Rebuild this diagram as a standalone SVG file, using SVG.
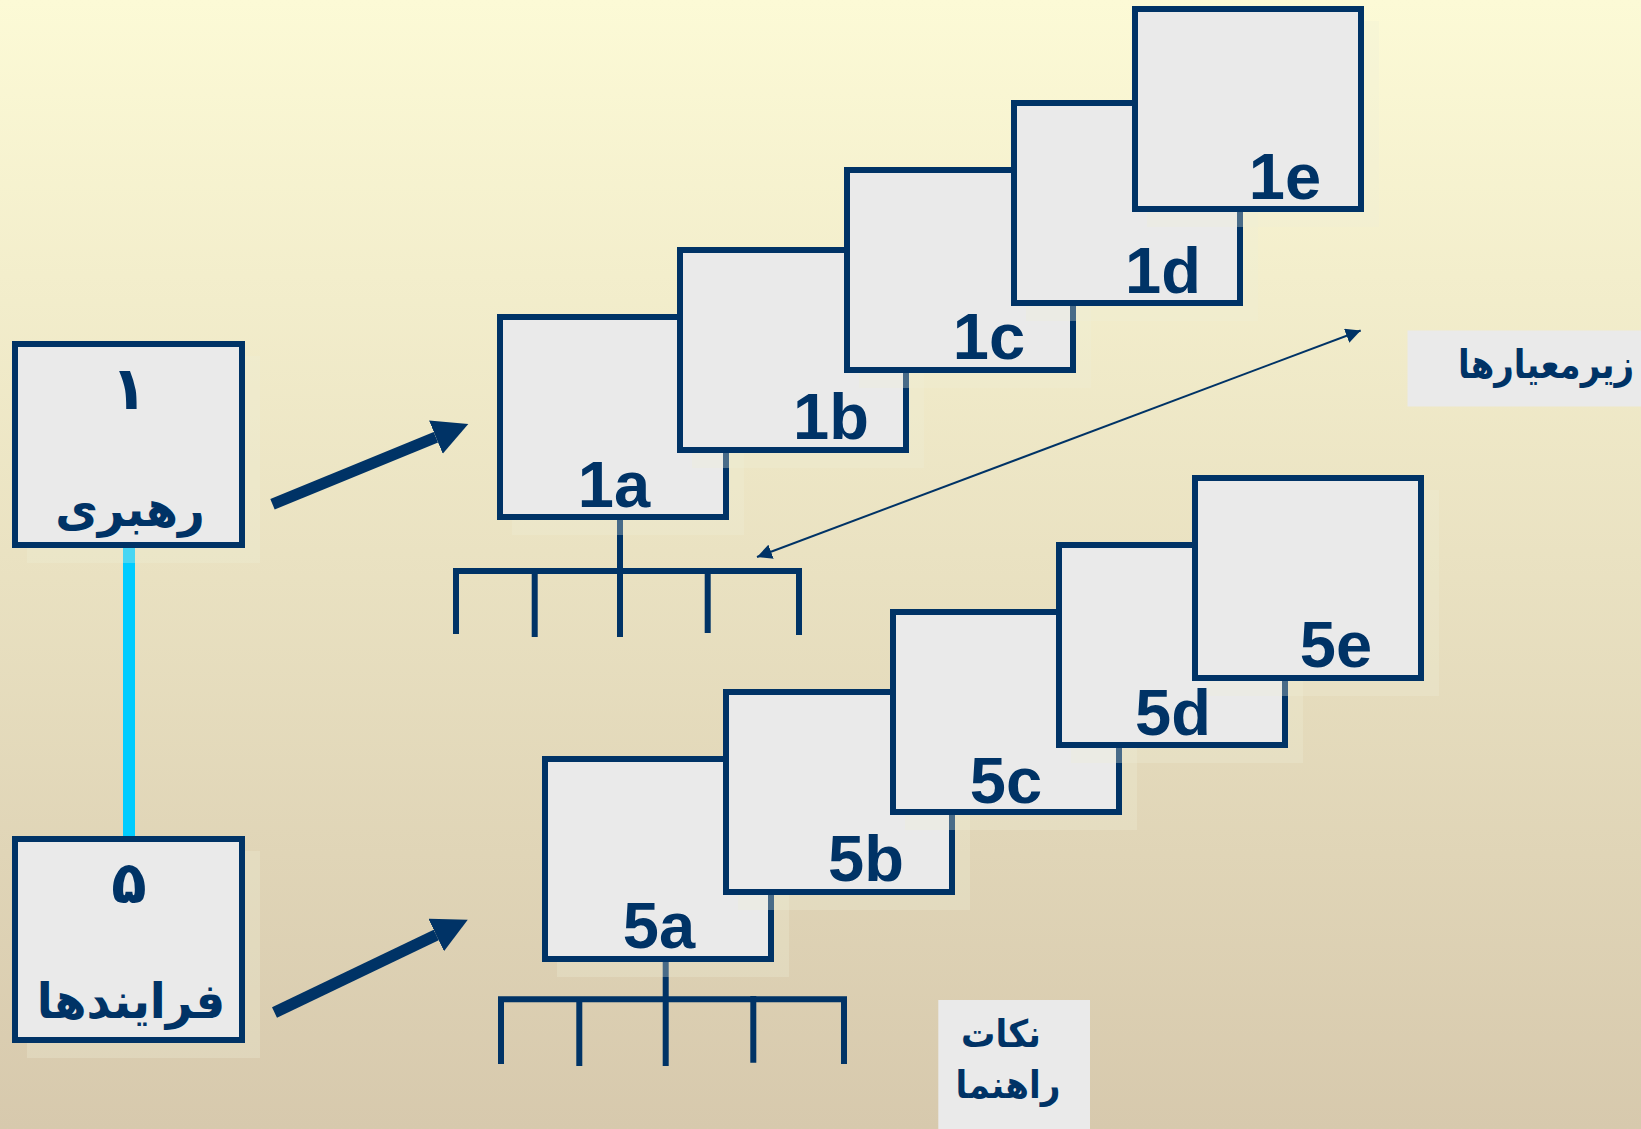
<svg xmlns="http://www.w3.org/2000/svg" width="1641" height="1129" viewBox="0 0 1641 1129">
<defs>
<linearGradient id="bg" x1="0" y1="0" x2="0" y2="1">
<stop offset="0" stop-color="#FCFAD6"/>
<stop offset="1" stop-color="#D7C9AD"/>
</linearGradient>
<marker id="bighead" markerUnits="userSpaceOnUse" markerWidth="36" markerHeight="36" refX="0" refY="18" orient="auto">
<path d="M0,0 L35,18 L0,36 Z" fill="#003366"/>
</marker>
<marker id="thinhead" markerUnits="userSpaceOnUse" markerWidth="16" markerHeight="15" refX="15" refY="7.5" orient="auto-start-reverse">
<path d="M0,0 L15,7.5 L0,15 Z" fill="#003366"/>
</marker>
</defs>
<style>
.box{fill:#EAEAEA;stroke:#003366;stroke-width:6}
.shadow{fill:#EFEDD8;opacity:.3}
.lbl{font-family:"Liberation Sans",Arial,sans-serif;font-weight:bold;font-size:65px;fill:#003366;text-anchor:middle}
.fa{font-family:"DejaVu Sans","Noto Sans",sans-serif;font-weight:bold;fill:#003366;text-anchor:middle}
.tree{stroke:#003366;stroke-width:6;fill:none;stroke-linejoin:miter}
.big{stroke:#003366;stroke-width:11.5;fill:none;marker-end:url(#bighead)}
.thin{stroke:#003366;stroke-width:2;fill:none;marker-start:url(#thinhead);marker-end:url(#thinhead)}
.note{fill:#EAEAEA}
</style>
<rect x="0" y="0" width="1641" height="1129" fill="url(#bg)"/>

<g id="label-subcriteria">
<rect class="note" x="1407.5" y="330.5" width="233.5" height="76"/>
<text class="fa" transform="translate(1546,378) scale(0.85,1)" font-size="40">زیرمعیارها</text>
</g>
<g id="label-guides">
<rect class="note" x="938.3" y="1000" width="151.7" height="129"/>
<text class="fa" transform="translate(1001,1047) scale(0.9,1)" font-size="38">نکات</text>
<text class="fa" transform="translate(1008,1098) scale(0.9,1)" font-size="38">راهنما</text>
</g>

<g id="connectors">
<line x1="129" y1="547" x2="129" y2="836" stroke="#00CCFF" stroke-width="12"/>
<line class="big" x1="272.5" y1="504.2" x2="435.9" y2="437.2"/>
<line class="big" x1="274.5" y1="1012.5" x2="436.2" y2="935"/>
<line class="thin" x1="757" y1="557" x2="1360.7" y2="330.5"/>
<path class="tree" d="M456,634 V571 H799 V635 M534.7,637 V571 M620,520 V637 M707.7,633 V568"/>
<path class="tree" d="M501,1064 V999.3 H844 V1064 M579.3,1066 V999.3 M665.7,962 V1066 M753.3,1062.7 V996"/>
</g>

<g id="node-1">
<rect class="shadow" x="27" y="356" width="233" height="207"/>
<rect class="box" x="15" y="344" width="227" height="201"/>
<text class="fa" x="129" y="409" font-size="60">۱</text>
<text class="fa" transform="translate(130,526) scale(0.95,1)" font-size="49">رهبری</text>
</g>
<g id="node-5">
<rect class="shadow" x="27" y="851" width="233" height="207"/>
<rect class="box" x="15" y="839" width="227" height="201"/>
<text class="fa" x="129" y="903" font-size="58">۵</text>
<text class="fa" transform="translate(131,1018) scale(0.95,1)" font-size="49">فرایندها</text>
</g>

<g id="node-1a">
<rect class="shadow" x="512" y="329" width="232" height="206"/>
<rect class="box" x="500" y="317" width="226" height="200"/>
<text class="lbl" x="614" y="507">1a</text>
</g>
<g id="node-1b">
<rect class="shadow" x="692" y="262" width="232" height="206"/>
<rect class="box" x="680" y="250" width="226" height="200"/>
<text class="lbl" x="831" y="439">1b</text>
</g>
<g id="node-1c">
<rect class="shadow" x="859" y="182" width="232" height="206"/>
<rect class="box" x="847" y="170" width="226" height="200"/>
<text class="lbl" x="989" y="359">1c</text>
</g>
<g id="node-1d">
<rect class="shadow" x="1026" y="115" width="232" height="206"/>
<rect class="box" x="1014" y="103" width="226" height="200"/>
<text class="lbl" x="1163" y="293">1d</text>
</g>
<g id="node-1e">
<rect class="shadow" x="1147" y="21" width="232" height="206"/>
<rect class="box" x="1135" y="9" width="226" height="200"/>
<text class="lbl" x="1285" y="199">1e</text>
</g>

<g id="node-5a">
<rect class="shadow" x="557" y="771" width="232" height="206"/>
<rect class="box" x="545" y="759" width="226" height="200"/>
<text class="lbl" x="659" y="948">5a</text>
</g>
<g id="node-5b">
<rect class="shadow" x="738" y="704" width="232" height="206"/>
<rect class="box" x="726" y="692" width="226" height="200"/>
<text class="lbl" x="866" y="881">5b</text>
</g>
<g id="node-5c">
<rect class="shadow" x="905" y="624" width="232" height="206"/>
<rect class="box" x="893" y="612" width="226" height="200"/>
<text class="lbl" x="1006" y="803">5c</text>
</g>
<g id="node-5d">
<rect class="shadow" x="1071" y="557" width="232" height="206"/>
<rect class="box" x="1059" y="545" width="226" height="200"/>
<text class="lbl" x="1173" y="735">5d</text>
</g>
<g id="node-5e">
<rect class="shadow" x="1207" y="490" width="232" height="206"/>
<rect class="box" x="1195" y="478" width="226" height="200"/>
<text class="lbl" x="1336" y="667">5e</text>
</g>
</svg>
